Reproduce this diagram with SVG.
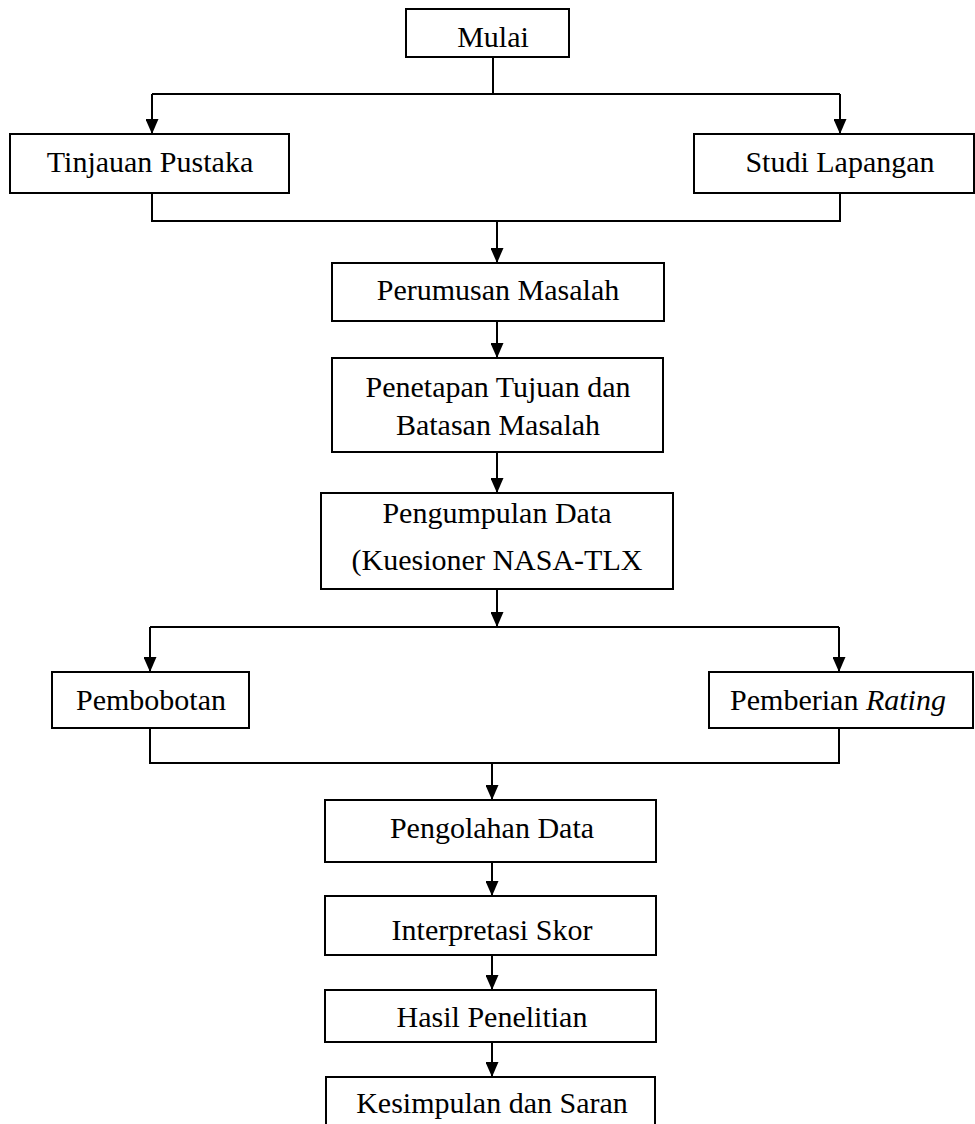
<svg xmlns="http://www.w3.org/2000/svg" width="975" height="1124" viewBox="0 0 975 1124">
<style>
.box{fill:#fff;stroke:#000;stroke-width:2}
.t{font-family:"Liberation Serif","Times New Roman",serif;font-size:30px;fill:#000;text-anchor:middle}
.c{fill:none;stroke:#000;stroke-width:2}
</style>
<defs>
<marker id="ah" markerUnits="userSpaceOnUse" viewBox="0 0 15 13" refX="15" refY="6.5" markerWidth="15" markerHeight="13" orient="auto">
<path d="M0,0 L15,6.5 L0,13 z" fill="#000"/>
</marker>
</defs>
<rect width="975" height="1124" fill="#fff"/>
<g id="connectors">
<path class="c" d="M493,57 V94"/>
<path class="c" d="M152,94 H840"/>
<path class="c" d="M152,94 V134" marker-end="url(#ah)"/>
<path class="c" d="M840,94 V134" marker-end="url(#ah)"/>
<path class="c" d="M152,193 V221 H840 V193"/>
<path class="c" d="M497,221 V263" marker-end="url(#ah)"/>
<path class="c" d="M497,321 V358" marker-end="url(#ah)"/>
<path class="c" d="M497,452 V493" marker-end="url(#ah)"/>
<path class="c" d="M497,589 V627" marker-end="url(#ah)"/>
<path class="c" d="M150,627 H839"/>
<path class="c" d="M150,627 V672" marker-end="url(#ah)"/>
<path class="c" d="M839,627 V672" marker-end="url(#ah)"/>
<path class="c" d="M150,728 V763 H839 V728"/>
<path class="c" d="M492,763 V800" marker-end="url(#ah)"/>
<path class="c" d="M492,862 V896" marker-end="url(#ah)"/>
<path class="c" d="M492,955 V990" marker-end="url(#ah)"/>
<path class="c" d="M492,1042 V1077" marker-end="url(#ah)"/>
</g>
<g id="mulai"><rect class="box" x="406" y="9" width="163" height="48"/><text class="t" x="493" y="47">Mulai</text></g>
<g id="tinjauan"><rect class="box" x="10" y="134" width="279" height="59"/><text class="t" x="150" y="172">Tinjauan Pustaka</text></g>
<g id="studi"><rect class="box" x="694" y="134" width="280" height="59"/><text class="t" x="840" y="172">Studi Lapangan</text></g>
<g id="perumusan"><rect class="box" x="332" y="263" width="332" height="58"/><text class="t" x="498" y="300">Perumusan Masalah</text></g>
<g id="penetapan"><rect class="box" x="332" y="358" width="331" height="94"/><text class="t" x="498" y="397">Penetapan Tujuan dan</text><text class="t" x="498" y="435">Batasan Masalah</text></g>
<g id="pengumpulan"><rect class="box" x="321" y="493" width="352" height="96"/><text class="t" x="497" y="523">Pengumpulan Data</text><text class="t" x="497" y="570">(Kuesioner NASA-TLX</text></g>
<g id="pembobotan"><rect class="box" x="52" y="672" width="197" height="56"/><text class="t" x="151" y="710">Pembobotan</text></g>
<g id="pemberian"><rect class="box" x="709" y="672" width="264" height="56"/><text class="t" x="838" y="710">Pemberian <tspan font-style="italic">Rating</tspan></text></g>
<g id="pengolahan"><rect class="box" x="325" y="800" width="331" height="62"/><text class="t" x="492" y="838">Pengolahan Data</text></g>
<g id="interpretasi"><rect class="box" x="325" y="896" width="331" height="59"/><text class="t" x="492" y="940">Interpretasi Skor</text></g>
<g id="hasil"><rect class="box" x="325" y="990" width="331" height="52"/><text class="t" x="492" y="1027">Hasil Penelitian</text></g>
<g id="kesimpulan"><path class="c" d="M326,1126 V1077 H655 V1126"/><text class="t" x="492" y="1113">Kesimpulan dan Saran</text></g>
</svg>
